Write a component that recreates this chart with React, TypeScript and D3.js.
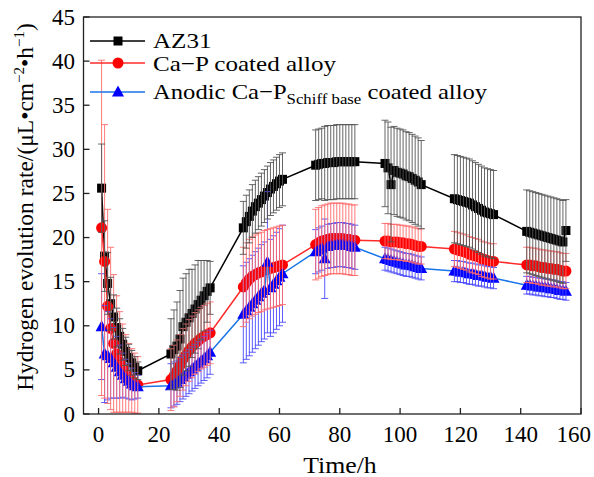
import React from "react";
import * as d3 from "d3";

// sampling hours (seven daily sessions)
const hours = [
  1, 2, 3, 4, 5, 6, 7, 8, 9, 10, 11, 12, 13,
  24, 25, 26, 27, 28, 29, 30, 31, 32, 33, 34, 35, 36, 37,
  48, 49, 50, 51, 52, 53, 54, 55, 56, 57, 58, 59, 60, 61,
  72, 73, 74, 75, 76, 77, 78, 79, 80, 81, 82, 83, 84, 85,
  95, 96, 97, 98, 99, 100, 101, 102, 103, 104, 105, 106, 107,
  118, 119, 120, 121, 122, 123, 124, 125, 126, 127, 128, 129, 130, 131,
  142, 143, 144, 145, 146, 147, 148, 149, 150, 151, 152, 153, 154, 155,
];

const az31 = [
  25.6, 17.9, 14.8, 12.5, 11.0, 9.8, 8.8, 7.9, 7.1, 6.4, 5.8, 5.3, 4.9,
  6.8, 7.3, 7.7, 8.5, 9.9, 10.4, 10.9, 11.4, 11.9, 12.4, 12.9, 13.4, 13.9, 14.3,
  21.1, 21.8, 22.4, 23.0, 23.5, 23.9, 24.3, 24.7, 25.1, 25.5, 25.8, 26.1, 26.4, 26.6,
  28.2, 28.3, 28.4, 28.4, 28.5, 28.5, 28.5, 28.6, 28.6, 28.6, 28.6, 28.6, 28.6, 28.6,
  28.4, 27.9, 26.0, 27.6, 27.4, 27.3, 27.2, 27.0, 26.9, 26.7, 26.5, 26.3, 26.0,
  24.4, 24.3, 24.2, 24.1, 24.0, 23.9, 23.7, 23.5, 23.3, 23.1, 22.9, 22.8, 22.7, 22.6,
  20.7, 20.6, 20.5, 20.4, 20.3, 20.2, 20.1, 20.0, 19.9, 19.8, 19.7, 19.6, 19.5, 20.8,
];
const az31Err = [
  5.0, 4.0, 3.5, 3.0, 2.5, 2.2, 2.0, 1.8, 1.6, 1.5, 1.4, 1.2, 1.0,
  4.0, 4.5, 5.0, 5.5, 5.5, 5.5, 5.5, 5.0, 5.0, 5.0, 4.5, 4.0, 3.5, 3.0,
  3.0, 3.0, 3.0, 3.0, 3.0, 3.0, 3.0, 3.0, 3.0, 3.0, 3.0, 3.0, 3.0, 3.0,
  4.0, 4.0, 4.0, 4.2, 4.2, 4.2, 4.2, 4.2, 4.2, 4.2, 4.2, 4.2, 4.2, 4.2,
  4.9, 5.2, 6.5, 5.0, 5.0, 5.0, 5.0, 5.0, 5.0, 5.0, 5.0, 5.0, 5.0,
  5.0, 5.0, 5.0, 5.0, 5.0, 5.0, 5.0, 5.0, 5.0, 5.0, 5.0, 5.0, 5.0, 5.0,
  4.7, 4.7, 4.7, 4.7, 4.7, 4.7, 4.7, 4.7, 4.7, 4.7, 4.7, 4.7, 4.7, 3.5,
];

const caP = [
  21.1, 17.3, 12.2, 9.7, 8.0, 6.8, 5.9, 5.2, 4.6, 4.1, 3.8, 3.5, 3.3,
  3.9, 4.3, 4.9, 5.5, 6.2, 6.7, 7.2, 7.6, 8.0, 8.3, 8.6, 8.8, 9.0, 9.2,
  14.4, 14.9, 15.3, 15.6, 15.8, 16.0, 16.1, 16.3, 16.4, 16.5, 16.6, 16.7, 16.8, 16.9,
  19.2, 19.4, 19.6, 19.7, 19.8, 19.9, 19.9, 19.9, 19.9, 19.9, 19.8, 19.8, 19.7, 19.7,
  19.6, 19.6, 19.5, 19.5, 19.5, 19.4, 19.4, 19.3, 19.3, 19.2, 19.1, 19.0, 19.0,
  18.7, 18.6, 18.5, 18.4, 18.3, 18.1, 18.0, 17.9, 17.8, 17.6, 17.5, 17.4, 17.3, 17.3,
  16.9, 16.9, 16.8, 16.8, 16.7, 16.6, 16.6, 16.5, 16.5, 16.4, 16.4, 16.3, 16.2, 16.2,
];
const caPErr = [
  19.0, 15.5, 11.0, 9.2, 7.8, 6.6, 5.7, 5.0, 4.4, 3.9, 3.6, 3.4, 3.2,
  3.5, 3.5, 3.5, 3.5, 3.5, 3.5, 3.5, 3.5, 3.5, 3.5, 3.5, 3.5, 3.5, 3.5,
  4.5, 4.5, 4.5, 4.5, 4.5, 4.5, 4.5, 4.5, 4.5, 4.5, 4.5, 4.5, 4.5, 4.5,
  4.0, 4.0, 4.0, 4.0, 4.0, 4.0, 4.0, 4.0, 4.0, 4.0, 4.0, 4.0, 4.0, 4.0,
  2.0, 2.0, 2.0, 2.0, 2.0, 2.0, 2.0, 2.0, 2.0, 2.0, 2.0, 2.0, 2.0,
  2.0, 2.0, 2.0, 2.0, 2.0, 2.0, 2.0, 2.0, 2.0, 2.0, 2.0, 2.0, 2.0, 2.0,
  2.0, 2.0, 2.0, 2.0, 2.0, 2.0, 2.0, 2.0, 2.0, 2.0, 2.0, 2.0, 2.0, 2.0,
];

const schiff = [
  9.9, 6.8, 6.6, 6.3, 5.8, 5.3, 4.8, 4.4, 4.0, 3.7, 3.4, 3.2, 3.1,
  3.2, 3.4, 3.6, 3.9, 4.2, 4.5, 4.8, 5.1, 5.4, 5.7, 6.0, 6.3, 6.6, 7.0,
  11.3, 11.7, 12.1, 12.5, 12.9, 13.3, 13.7, 14.0, 17.2, 14.3, 14.7, 15.1, 15.5, 15.9,
  18.4, 18.6, 18.8, 17.6, 19.0, 19.1, 19.1, 19.2, 19.2, 19.2, 19.1, 19.1, 19.0, 18.9,
  17.6, 17.5, 17.4, 17.3, 17.2, 17.1, 17.0, 16.9, 16.9, 16.8, 16.7, 16.6, 16.5,
  16.2, 16.2, 16.1, 16.1, 16.0, 15.9, 15.9, 15.8, 15.7, 15.7, 15.6, 15.5, 15.5, 15.4,
  14.6, 14.6, 14.5, 14.5, 14.4, 14.4, 14.3, 14.3, 14.2, 14.2, 14.1, 14.0, 14.0, 13.9,
];
const schiffErr = [
  6.0, 5.5, 5.0, 4.5, 4.0, 3.5, 3.0, 2.5, 2.2, 2.0, 1.8, 1.5, 1.3,
  2.5, 2.5, 2.5, 2.5, 2.5, 2.5, 2.5, 2.5, 2.5, 2.5, 2.5, 2.5, 2.5, 2.5,
  5.5, 5.5, 5.5, 5.5, 5.5, 5.5, 5.5, 5.5, 8.0, 5.5, 5.5, 5.5, 5.5, 5.5,
  2.5, 2.5, 2.5, 4.5, 2.5, 2.5, 2.5, 2.5, 2.5, 2.5, 2.5, 2.5, 2.5, 2.5,
  1.3, 1.3, 1.3, 1.3, 1.3, 1.3, 1.3, 1.3, 1.3, 1.3, 1.3, 1.3, 1.3,
  1.2, 1.2, 1.2, 1.2, 1.2, 1.2, 1.2, 1.2, 1.2, 1.2, 1.2, 1.2, 1.2, 1.2,
  1.0, 1.0, 1.0, 1.0, 1.0, 1.0, 1.0, 1.0, 1.0, 1.0, 1.0, 1.0, 1.0, 1.0,
];

const xTicks = [0, 20, 40, 60, 80, 100, 120, 140, 160];
const yTicks = [0, 5, 10, 15, 20, 25, 30, 35, 40, 45];

const width = 594;
const height = 477;
const font = "'Times New Roman', 'Liberation Serif', serif";

const series = [
  { key: "az31", values: az31, err: az31Err, line: "#000000", fill: "#000000", bar: "#555555", shape: "square" },
  { key: "cap", values: caP, err: caPErr, line: "#ff2a2a", fill: "#ff0000", bar: "#ff6b6b", shape: "circle" },
  { key: "schiff", values: schiff, err: schiffErr, line: "#1a75e8", fill: "#0000ff", bar: "#4a4aff", shape: "triangle" },
];

function Marker({ shape, cx, cy, fill }: { shape: string; cx: number; cy: number; fill: string }) {
  if (shape === "square") return <rect x={cx - 4.5} y={cy - 4.5} width={9} height={9} fill={fill} />;
  if (shape === "circle") return <circle cx={cx} cy={cy} r={5.5} fill={fill} />;
  return <path d={`M${cx},${cy - 6.5}L${cx + 6},${cy + 4.5}L${cx - 6},${cy + 4.5}Z`} fill={fill} />;
}

export default function App() {
  const x = d3.scaleLinear().domain([-5, 160]).range([83.5, 581]);
  const y = d3.scaleLinear().domain([0, 45]).range([414, 17]);
  const line = d3.line<number>().x((_, i) => x(hours[i])).y((d) => y(d));

  const legend = [
    { s: series[0], y: 41 },
    { s: series[1], y: 63 },
    { s: series[2], y: 92 },
  ];

  return (
    <div style={{ position: "absolute", left: 0, top: 0 }}>
      <svg width={width} height={height} style={{ display: "block", background: "#fff" }} fontFamily={font}>
        {/* lines and symbols */}
        {series.map((s) => (
          <g key={s.key}>
            <path d={line(s.values) || ""} fill="none" stroke={s.line} strokeWidth={1.5} />
            {s.values.map((v, i) => (
              <Marker key={i} shape={s.shape} cx={x(hours[i])} cy={y(v)} fill={s.fill} />
            ))}
          </g>
        ))}
        {/* error bars */}
        {[series[2], series[1], series[0]].map((s) => (
          <g key={s.key + "err"} stroke={s.bar} strokeWidth={0.9}>
            {s.values.map((v, i) => {
              const cx = x(hours[i]);
              const y0 = y(Math.max(v - s.err[i], 0));
              const y1 = y(v + s.err[i]);
              return (
                <g key={i}>
                  <line x1={cx} x2={cx} y1={y0} y2={y1} />
                  <line x1={cx - 3.5} x2={cx + 3.5} y1={y0} y2={y0} />
                  <line x1={cx - 3.5} x2={cx + 3.5} y1={y1} y2={y1} />
                </g>
              );
            })}
          </g>
        ))}
        {/* frame */}
        <rect x={83.5} y={17} width={581 - 83.5} height={414 - 17} fill="none" stroke="#222" strokeWidth={1.3} />
        <g fontSize={23} fill="#000">
          {xTicks.map((t, i) => (
            <g key={"x" + t}>
              <line x1={x(t)} x2={x(t)} y1={414} y2={408} stroke="#222" strokeWidth={1.3} />
              {i === xTicks.length - 1 ? (
                <text x={591} y={442} textAnchor="end">{t}</text>
              ) : (
                <text x={x(t)} y={442} textAnchor="middle">{t}</text>
              )}
            </g>
          ))}
          {yTicks.map((t) => (
            <g key={"y" + t}>
              <line x1={83.5} x2={89.5} y1={y(t)} y2={y(t)} stroke="#222" strokeWidth={1.3} />
              <text x={75} y={y(t) + 7.5} textAnchor="end">{t}</text>
            </g>
          ))}
          <text transform="translate(340,473) scale(1.12,1)" textAnchor="middle">Time/h</text>
          <text transform="translate(33,207) rotate(-90)" textAnchor="middle" fontSize={23.5}>
            Hydrogen evolution rate/(μL•cm<tspan fontSize={15} dy={-9}>−2</tspan>
            <tspan dy={9}>•h</tspan><tspan fontSize={15} dy={-9}>−1</tspan><tspan dy={9}>)</tspan>
          </text>
        </g>
        <g fontSize={22} fill="#000">
          <text transform="translate(153,48) scale(1.14,1)">AZ31</text>
          <text transform="translate(153,71) scale(1.14,1)">Ca−P coated alloy</text>
          <text transform="translate(153,99) scale(1.12,1)">
            Anodic Ca−P<tspan fontSize={15} dy={5}>Schiff base</tspan><tspan dy={-5}> coated alloy</tspan>
          </text>
        </g>
        {/* legend */}
        {legend.map(({ s, y: ly }) => (
          <g key={s.key + "leg"}>
            <line x1={90} x2={145} y1={ly} y2={ly} stroke={s.line} strokeWidth={1.5} />
            <Marker shape={s.shape} cx={118} cy={ly} fill={s.fill} />
          </g>
        ))}
      </svg>
    </div>
  );
}
